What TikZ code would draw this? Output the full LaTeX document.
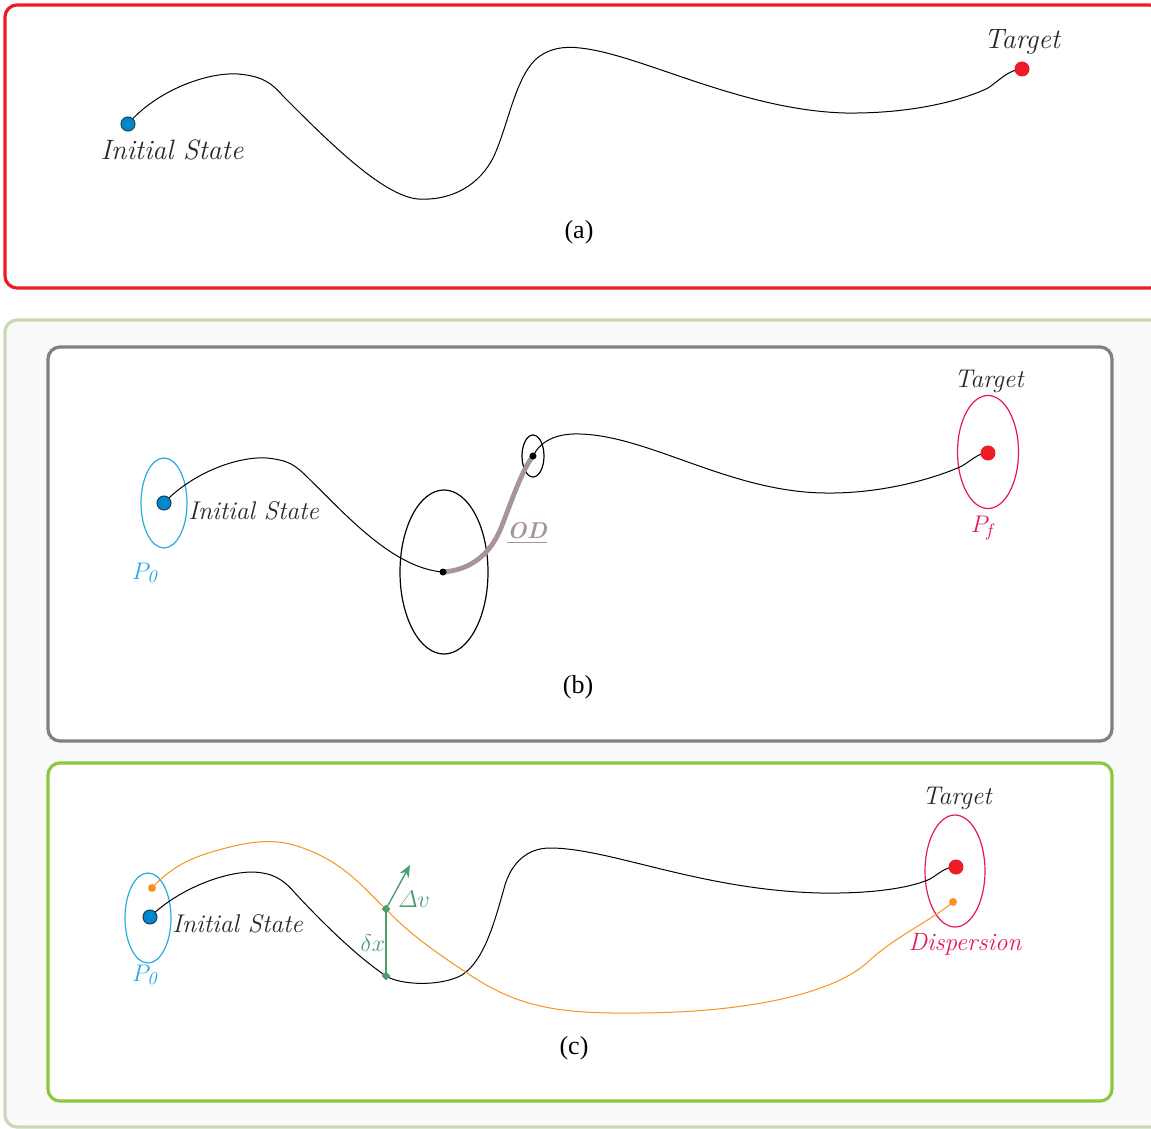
\documentclass[tikz,border=0pt]{standalone}
\usepackage{fontspec}
\newfontfamily\capfont{Liberation Serif}
\usetikzlibrary{arrows.meta,shapes.geometric}
\definecolor{boxred}{RGB}{237,28,36}
\definecolor{outerfill}{RGB}{250,250,250}
\definecolor{outerline}{RGB}{200,216,184}
\definecolor{boxgray}{RGB}{128,128,128}
\definecolor{boxgreen}{RGB}{141,198,63}
\definecolor{dotblue}{RGB}{0,136,204}
\definecolor{dotblueline}{RGB}{30,60,90}
\definecolor{dotred}{RGB}{237,28,36}
\definecolor{ellcyan}{RGB}{41,171,226}
\definecolor{ellcrimson}{RGB}{230,24,90}
\definecolor{odmauve}{RGB}{168,146,158}
\definecolor{orbitorange}{RGB}{247,147,30}
\definecolor{vecgreen}{RGB}{77,158,110}
\definecolor{labelgray}{RGB}{40,40,40}
\tikzset{
  panel/.style={line width=1.6pt, rounded corners=6pt},
  bluedot/.style={circle, fill=dotblue, draw=dotblueline, line width=0.5pt, inner sep=0pt, minimum size=7pt},
  reddot/.style={circle, fill=dotred, inner sep=0pt, minimum size=7.5pt},
  blackdot/.style={circle, fill=black, inner sep=0pt, minimum size=3.5pt},
  orangedot/.style={circle, fill=orbitorange, inner sep=0pt, minimum size=4pt},
  greendot/.style={diamond, fill=vecgreen, inner sep=0pt, minimum size=4.5pt},
  traj/.style={line width=0.5pt, black},
  lbl/.style={text=labelgray, font=\fontsize{12.8}{14}\selectfont\itshape, inner sep=0pt},
  biglbl/.style={text=labelgray, font=\fontsize{14}{16}\selectfont\itshape, inner sep=0pt},
  caption/.style={font=\capfont\fontsize{13}{15}\selectfont, inner sep=0pt},
  ell/.style={line width=0.6pt, ellipse, inner sep=0pt},
}
\begin{document}
\begin{tikzpicture}[x=0.5pt,y=-0.5pt]
\useasboundingbox (0,0) rectangle (1151,1129);
% ---------------- panel (a)
\draw[panel, draw=boxred, fill=white] (5,5) rectangle (1162,288);
\coordinate (a0) at (128,124);
\coordinate (aT) at (1022,69);
\draw[traj] (a0) .. controls (155,92) and (205,72) .. (238,74)
  .. controls (260,76) and (270,81) .. (283,96)
  .. controls (325,138) and (382,196) .. (418,199)
  .. controls (452,201) and (480,185) .. (494,156)
  .. controls (508,125) and (515,80) .. (535,60)
  .. controls (548,48) and (565,46) .. (580,48)
  .. controls (640,54) and (740,110) .. (845,113)
  .. controls (920,114) and (970,97) .. (988,88)
  .. controls (1000,80) and (1008,70) .. (aT);
\node[bluedot] (a0d) at (a0) {};
\node[reddot] (aTd) at (aT) {};
\node[biglbl] (ainit) at (172,150) {Initial State};
\node[biglbl] (atarget) at (1022,42) {Target};
\node[caption] (acap) at (579,232) {(a)};
% ---------------- outer box
\draw[panel, draw=outerline, fill=outerfill] (5,320) rectangle (1165,1127);
% ---------------- panel (b)
\draw[panel, draw=boxgray, fill=white] (48,347) rectangle (1112,741);
\coordinate (b0) at (164,503);
\coordinate (b1) at (443,572);
\coordinate (b2) at (533,456);
\coordinate (bT) at (988,453);
\node[ell, draw=ellcyan, minimum width=23pt, minimum height=45pt] (bP0) at (b0) {};
\node[ell, draw=black, minimum width=44pt, minimum height=82pt] (bE1) at (444,572) {};
\node[ell, draw=black, minimum width=11pt, minimum height=21pt] (bE2) at (b2) {};
\node[ell, draw=ellcrimson, minimum width=30.5pt, minimum height=56.5pt] (bPf) at (988,452) {};
\draw[traj] (b0) .. controls (190,475) and (235,456) .. (267,458)
  .. controls (285,460) and (292,463) .. (302,472)
  .. controls (340,508) and (390,568) .. (b1);
\draw[line width=2.4pt, odmauve] (b1) .. controls (470,570) and (490,555) .. (501,528)
  .. controls (512,500) and (522,470) .. (b2);
\draw[traj] (b2) .. controls (540,442) and (555,433) .. (580,434)
  .. controls (650,436) and (730,492) .. (825,493)
  .. controls (890,494) and (945,474) .. (962,466)
  .. controls (972,460) and (978,453) .. (bT);
\node[bluedot] (b0d) at (b0) {};
\node[blackdot] (b1d) at (b1) {};
\node[blackdot] (b2d) at (b2) {};
\node[reddot] (bTd) at (bT) {};
\node[lbl, anchor=west] (binit) at (188,511) {Initial State};
\node[lbl] (btarget) at (989,381) {Target};
\node[lbl, text=ellcyan] (bp0) at (145,573) {$P_{\mathit{0}}$};
\node[lbl, text=ellcrimson] (bpf) at (982,528) {$P_{\mathit{f}}$};
\node[lbl, text=odmauve, font=\fontsize{11.5}{13}\selectfont\bfseries\itshape] (bod) at (527,533) {\underline{OD}};
\node[caption] (bcap) at (578,687) {(b)};
% ---------------- panel (c)
\draw[panel, draw=boxgreen, fill=white] (48,763) rectangle (1112,1101);
\coordinate (c0) at (150,917);
\coordinate (co) at (152,888);
\coordinate (cT) at (956,867);
\coordinate (cD) at (953,902);
\coordinate (cv1) at (386,909);
\coordinate (cv2) at (386,976);
\coordinate (cvt) at (410,865);
\node[ell, draw=ellcyan, minimum width=23pt, minimum height=45pt] (cP0) at (148,918) {};
\node[ell, draw=ellcrimson, minimum width=30pt, minimum height=56pt] (cPf) at (955,871) {};
\draw[traj] (c0) .. controls (175,892) and (220,872) .. (253,872)
  .. controls (272,873) and (282,878) .. (295,893)
  .. controls (320,920) and (355,955) .. (cv2)
  .. controls (400,985) and (440,987) .. (462,975)
  .. controls (485,960) and (495,920) .. (505,885)
  .. controls (512,862) and (528,848) .. (550,848)
  .. controls (610,848) and (700,890) .. (820,893)
  .. controls (880,894) and (915,886) .. (930,879)
  .. controls (940,873) and (945,867) .. (cT);
\draw[line width=0.5pt, orbitorange] (co) .. controls (170,868) and (190,858) .. (215,851)
  .. controls (240,844) and (270,836) .. (300,847)
  .. controls (345,862) and (365,890) .. (cv1)
  .. controls (410,935) and (440,955) .. (470,975)
  .. controls (520,1008) and (560,1014) .. (640,1013)
  .. controls (760,1012) and (840,990) .. (870,960)
  .. controls (895,937) and (935,918) .. (cD);
\draw[line width=0.7pt, vecgreen] (cv1) -- (cv2);
\draw[line width=0.7pt, vecgreen, -{Stealth[length=6pt,width=5pt]}] (cv1) -- (cvt);
\node[bluedot] (c0d) at (c0) {};
\node[orangedot] (cod) at (co) {};
\node[reddot] (cTd) at (cT) {};
\node[orangedot] (cDd) at (cD) {};
\node[greendot] (cv1d) at (cv1) {};
\node[greendot] (cv2d) at (cv2) {};
\node[lbl, anchor=west] (cinit) at (172,924) {Initial State};
\node[lbl] (ctarget) at (957,798) {Target};
\node[lbl, text=ellcrimson, font=\fontsize{12.5}{14}\selectfont\itshape] (cdisp) at (965,944) {Dispersion};
\node[lbl, text=ellcyan] (cp0) at (145,975) {$P_{\mathit{0}}$};
\node[lbl, text=vecgreen] (cdv) at (414,899) {$\mathnormal{\Delta} v$};
\node[lbl, text=vecgreen] (cdx) at (373,943) {$\delta x$};
\node[caption] (ccap) at (574,1048) {(c)};
\end{tikzpicture}
\end{document}
